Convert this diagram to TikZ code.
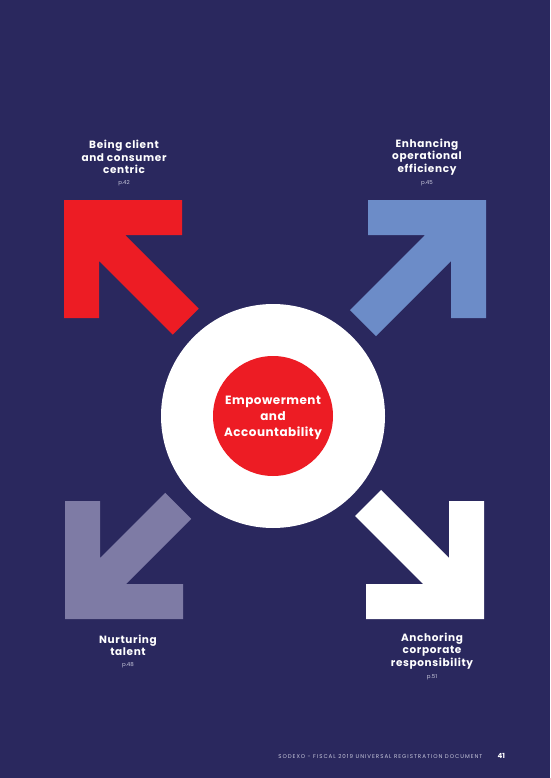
\documentclass[tikz,border=0pt]{standalone}
\usepackage{fontspec}
\setmainfont{Poppins}
\definecolor{PageClr}{RGB}{42,40,94}
\definecolor{ClientClr}{RGB}{237,28,36}
\definecolor{EfficiencyClr}{RGB}{108,140,200}
\definecolor{TalentClr}{RGB}{126,123,165}
\definecolor{ResponsibilityClr}{RGB}{255,255,255}
\definecolor{PageRefClr}{RGB}{200,200,220}
% one corner arrow: tip corner at the origin, arms along +x and +y, shaft of length #1
\newcommand{\CornerArrow}[2]{%
  \fill[#2] (0,0) -- (118,0) -- (118,35) -- (61,35)
    -- ({#1/sqrt(2)+13},{#1/sqrt(2)-13}) -- ({#1/sqrt(2)-13},{#1/sqrt(2)+13})
    -- (35,61) -- (35,118) -- (0,118) -- cycle;}
\tikzset{
  pillar/.style={align=center,text=white,font=\fontsize{10.5}{12.2}\selectfont\bfseries\addfontfeatures{LetterSpace=6}},
  pageref/.style={text=PageRefClr,font=\fontsize{5.5}{6}\selectfont},
}

\begin{document}
\begin{tikzpicture}[x=1pt,y=-1pt]
\fill[PageClr] (0,0) rectangle (550,778);
\useasboundingbox (0,0) rectangle (550,778);

\begin{scope}[shift={(64,200)}]
  \CornerArrow{172}{ClientClr}
\end{scope}
\begin{scope}[shift={(486,200)},xscale=-1]
  \CornerArrow{174}{EfficiencyClr}
\end{scope}
\begin{scope}[shift={(65,619)},yscale=-1]
  \CornerArrow{160}{TalentClr}
\end{scope}
\begin{scope}[shift={(484,619)},xscale=-1,yscale=-1]
  \CornerArrow{164}{ResponsibilityClr}
\end{scope}

\fill[white] (273,416) circle (112);
\node[circle,fill=ClientClr,minimum size=120pt,inner sep=0pt] (core) at (273,416) {};
\node[align=center,text=white,font=\fontsize{12}{16}\selectfont\bfseries\addfontfeatures{LetterSpace=4}] (coretxt) at (273,418)
  {Empowerment\\and\\Accountability};

\node[pillar] (client) at (124,157) {Being client\\and consumer\\centric};
\node[pageref] (clientp) at (124,183) {p.42};
\node[pillar] (efficiency) at (427,157) {Enhancing\\operational\\efficiency};
\node[pageref] (efficiencyp) at (427,183) {p.45};
\node[pillar] (talent) at (128,645.5) {Nurturing\\talent};
\node[pageref] (talentp) at (128,665) {p.48};
\node[pillar] (responsibility) at (432,651) {Anchoring\\corporate\\responsibility};
\node[pageref] (responsibilityp) at (432,677) {p.51};

\node[anchor=east,text=PageRefClr,font=\fontsize{5.5}{6}\selectfont\addfontfeatures{LetterSpace=18}] (footer) at (486,756)
  {SODEXO - FISCAL 2019 UNIVERSAL REGISTRATION DOCUMENT};
\node[anchor=west,text=white,font=\fontsize{7}{8}\selectfont\bfseries] (folio) at (494,756) {41};
\end{tikzpicture}
\end{document}
